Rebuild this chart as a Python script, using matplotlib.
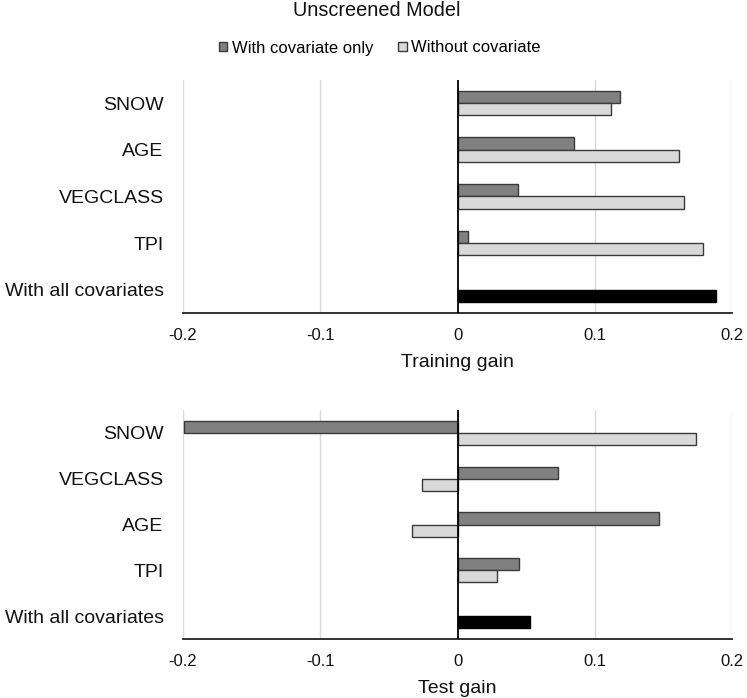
import matplotlib
matplotlib.use("Agg")
import matplotlib.pyplot as plt
import numpy as np
from matplotlib.patches import Patch

plt.rcParams['font.family'] = ['Liberation Sans', 'DejaVu Sans']

train_cats = ["SNOW", "AGE", "VEGCLASS", "TPI", "With all covariates"]
train_with = [0.118, 0.085, 0.044, 0.0075, np.nan]
train_without = [0.112, 0.161, 0.165, 0.179, np.nan]
train_all = 0.188

test_cats = ["SNOW", "VEGCLASS", "AGE", "TPI", "With all covariates"]
test_with = [-0.199, 0.073, 0.147, 0.0445, np.nan]
test_without = [0.174, -0.026, -0.033, 0.029, np.nan]
test_all = 0.0525

xticks = [-0.2, -0.1, 0, 0.1, 0.2]
xticklabels = ["-0.2", "-0.1", "0", "0.1", "0.2"]

DARK = "#808080"
LIGHT = "#d9d9d9"
EDGE = "#3a3a3a"
GRID = "#d9d9d9"
TXT = "#111111"

fig = plt.figure(figsize=(7.47, 6.98), dpi=100)
ax1 = fig.add_axes([0.245, 0.5516, 0.735, 0.3342])
ax2 = fig.add_axes([0.245, 0.0845, 0.735, 0.3281])

bh = 0.264

def draw(ax, cats, w, wo, allv, xlabel):
    y = np.arange(len(cats))
    ax.barh(y - bh / 2, w, height=bh, color=DARK, edgecolor=EDGE, linewidth=1.0, zorder=3)
    ax.barh(y + bh / 2, wo, height=bh, color=LIGHT, edgecolor=EDGE, linewidth=1.0, zorder=3)
    ax.barh([y[-1] + bh / 2], [allv], height=bh, color="black", edgecolor="black", linewidth=1.0, zorder=3)
    ax.set_ylim(len(cats) - 0.5, -0.5)
    ax.set_xlim(-0.2, 0.2)
    ax.set_yticks(y)
    ax.set_yticklabels(cats, fontsize=14, color=TXT)
    ax.set_xticks(xticks)
    ax.set_xticklabels(xticklabels, fontsize=12, color=TXT)
    ax.tick_params(axis='y', length=0, pad=14)
    ax.tick_params(axis='x', length=0, pad=10.5)
    for xv in xticks:
        if xv != 0:
            ax.axvline(xv, color=GRID, linewidth=1.0, zorder=1)
    ax.axvline(0, color="black", linewidth=1.3, zorder=4)
    for s in ["top", "right", "left"]:
        ax.spines[s].set_visible(False)
    ax.spines["bottom"].set_color("#222222")
    ax.spines["bottom"].set_linewidth(1.3)
    ax.set_xlabel(xlabel, fontsize=14, color=TXT, labelpad=8)

draw(ax1, train_cats, train_with, train_without, train_all, "Training gain")
draw(ax2, test_cats, test_with, test_without, test_all, "Test gain")

fig.text(377 / 747, 1 - 11 / 698, "Unscreened Model", ha="center", va="center", fontsize=14.3, color=TXT)
handles = [Patch(facecolor=DARK, edgecolor=EDGE, label="With covariate only"),
           Patch(facecolor=LIGHT, edgecolor=EDGE, label="Without covariate")]
fig.legend(handles=handles, loc="center", bbox_to_anchor=(379.5 / 747, 1 - 48 / 698), ncol=2,
           frameon=False, fontsize=12, handlelength=0.52, handleheight=0.52,
           handletextpad=0.25, columnspacing=1.5, borderpad=0, borderaxespad=0)

fig.savefig("out.png", dpi=100)
